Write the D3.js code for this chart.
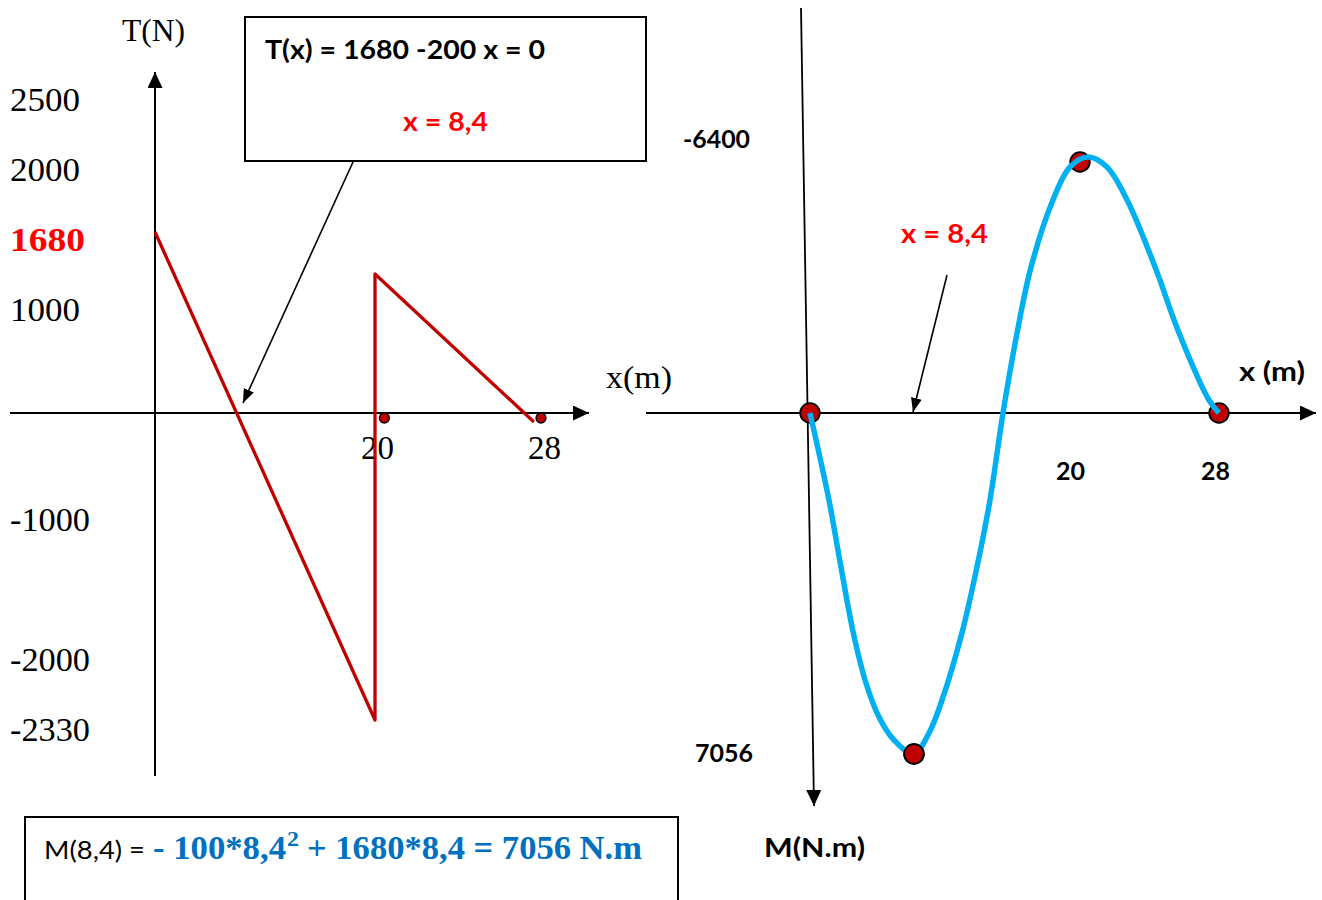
<!DOCTYPE html>
<html><head><meta charset="utf-8">
<script src="https://cdn.jsdelivr.net/npm/d3@7"></script>
<style>
html,body{margin:0;padding:0;background:#fff;}
svg{display:block;}
</style></head>
<body>
<svg id="c" width="1322" height="900"></svg>
<script>
// ---------- Shear force T(x) ----------
const tX = [0, 20, 20, 27.66];
const tY = [1680, -2330, 1290, -68];
const tDotX = [20.45, 28];
const tDotY = [-38, -38];
const tTickLabels = ["2500", "2000", "1680", "1000", "", "", "-1000", "", "-2000", "-2330"];
const tXTicks = [20, 28];

// ---------- Bending moment M(x) (drawn positive downward) ----------
const mX = [0, 1.53, 2.50, 3.50, 4.52, 5.57, 6.78, 8.4, 9.45, 10.36, 11.75, 12.80, 13.71, 14.62, 15.60, 16.58, 18.11, 19.30, 20.46, 21.55, 22.71, 24.32, 25.70, 27.42, 28];
const mY = [0, 1800, 3187, 4552, 5587, 6290, 6766, 7056, 6621, 5939, 4552, 3187, 1800, 0, -2040, -3723, -5431, -6273, -6527, -6273, -5431, -3723, -2040, -331, 0];
const mKeyX = [0, 8.4, 20, 28];
const mKeyY = [0, 7056, -6400, 0];
const mXTicks = [20, 28];
const mYLabels = ["-6400", "7056"];
const mYLabelValues = [-6400, 7056];

const svg = d3.select("#c");
const defs = svg.append("defs");
function marker(id, len, wid) {
  defs.append("marker").attr("id", id)
    .attr("viewBox", `0 0 ${len} ${wid}`)
    .attr("refX", len).attr("refY", wid / 2)
    .attr("markerWidth", len).attr("markerHeight", wid)
    .attr("markerUnits", "userSpaceOnUse").attr("orient", "auto")
    .append("path").attr("d", `M0,0L${len},${wid / 2}L0,${wid}Z`).attr("fill", "#000");
}
marker("ah", 16, 15);
marker("as", 14, 11);

function txt(g, x, y, s, o) {
  const t = g.append("text").attr("x", x).attr("y", y).text(s)
    .attr("font-family", o.ff || "Lato")
    .attr("font-size", o.fs)
    .attr("font-weight", o.fw || "bold")
    .attr("fill", o.fill || "#000");
  if (o.tl) t.attr("textLength", o.tl).attr("lengthAdjust", "spacingAndGlyphs");
  if (o.anchor) t.attr("text-anchor", o.anchor);
  return t;
}

// ================= LEFT CHART =================
const xT = d3.scaleLinear().domain([0, 20, 28]).range([155, 375, 541]);
const yT = d3.scaleLinear().domain([-2330, 0, 1680]).range([720, 413, 232]);
const gL = svg.append("g");

gL.append("line").attr("x1", 10).attr("y1", yT(0)).attr("x2", 589).attr("y2", yT(0))
  .attr("stroke", "#000").attr("stroke-width", 2).attr("marker-end", "url(#ah)");
gL.append("line").attr("x1", xT(0)).attr("y1", 776).attr("x2", xT(0)).attr("y2", 72)
  .attr("stroke", "#000").attr("stroke-width", 2).attr("marker-end", "url(#ah)");

// x tick labels
const axT = d3.axisBottom(xT).tickValues(tXTicks).tickSize(0).tickFormat(d3.format("d"));
const gaxT = gL.append("g").attr("transform", `translate(0,${yT(0)})`).call(axT);
gaxT.select(".domain").remove();
gaxT.selectAll("text").attr("y", 46).attr("dy", null)
  .attr("dx", (d, i) => [2, 3][i])
  .attr("font-family", "Liberation Serif").attr("font-size", 33).attr("fill", "#000");

// y tick labels (text-box lines)
const slot = d3.scalePoint().domain(d3.range(tTickLabels.length)).range([100, 730]);
gL.selectAll("text.yl")
  .data(tTickLabels.map((t, i) => ({ t, i })).filter(d => d.t))
  .join("text").attr("class", "yl")
  .attr("x", 10).attr("y", d => slot(d.i) + 11)
  .text(d => d.t)
  .attr("font-family", "Liberation Serif").attr("font-size", 34)
  .attr("textLength", d => d.t === "1680" ? 75 : (d.t.length === 4 ? 70 : 80))
  .attr("lengthAdjust", "spacingAndGlyphs")
  .attr("font-weight", d => d.t === "1680" ? "bold" : "normal")
  .attr("fill", d => d.t === "1680" ? "#FF0000" : "#000");

txt(gL, 122, 41, "T(N)", { ff: "Liberation Serif", fs: 31, fw: "normal", tl: 63 });
txt(gL, 606, 388, "x(m)", { ff: "Liberation Serif", fs: 31, fw: "normal", tl: 66 });

// shear line
const tPts = tX.map((x, i) => [x, tY[i]]);
gL.append("path")
  .attr("d", d3.line().x(d => xT(d[0])).y(d => yT(d[1]))(tPts))
  .attr("fill", "none").attr("stroke", "#C00000").attr("stroke-width", 3.3)
  .attr("stroke-linejoin", "round");
gL.selectAll("circle.td").data(tDotX.map((x, i) => [x, tDotY[i]])).join("circle")
  .attr("class", "td")
  .attr("cx", d => xT(d[0])).attr("cy", d => yT(d[1])).attr("r", 5)
  .attr("fill", "#C00000").attr("stroke", "#000").attr("stroke-width", 1.3);

// callout box
gL.append("rect").attr("x", 245).attr("y", 17).attr("width", 401).attr("height", 144)
  .attr("fill", "#fff").attr("stroke", "#000").attr("stroke-width", 2);
txt(gL, 265, 59, "T(x) = 1680 -200 x = 0", { fs: 27, tl: 280 });
txt(gL, 403, 131, "x = 8,4", { fs: 27, tl: 85, fill: "#FF0000" });
gL.append("line").attr("x1", 353).attr("y1", 162).attr("x2", 243).attr("y2", 403)
  .attr("stroke", "#000").attr("stroke-width", 1.6).attr("marker-end", "url(#as)");

// bottom formula box
gL.append("rect").attr("x", 25).attr("y", 817).attr("width", 653).attr("height", 120)
  .attr("fill", "#fff").attr("stroke", "#000").attr("stroke-width", 2);
txt(gL, 44, 859, "M(8,4) =", { fs: 25, fw: "normal", tl: 101 });
txt(gL, 153, 859, "- 100*8,4", { ff: "Liberation Serif", fs: 33, tl: 133, fill: "#0070C0" });
txt(gL, 287, 846, "2", { ff: "Liberation Serif", fs: 22, tl: 12, fill: "#0070C0" });
txt(gL, 307, 859, "+ 1680*8,4 = 7056 N.m", { ff: "Liberation Serif", fs: 33, tl: 335, fill: "#0070C0" });

// ================= RIGHT CHART =================
const xM = d3.scaleLinear().domain([0, 8.4, 20, 28]).range([810, 914, 1080, 1219]);
const yM = d3.scaleLinear().domain([-6400, 0, 7056]).range([162, 413, 754]);
const gR = svg.append("g");

gR.append("line").attr("x1", 646).attr("y1", yM(0)).attr("x2", 1316).attr("y2", yM(0))
  .attr("stroke", "#000").attr("stroke-width", 2).attr("marker-end", "url(#ah)");
gR.append("line").attr("x1", 801).attr("y1", 8).attr("x2", 814).attr("y2", 806)
  .attr("stroke", "#000").attr("stroke-width", 1.8).attr("marker-end", "url(#ah)");

const axM = d3.axisBottom(xM).tickValues(mXTicks).tickSize(0).tickFormat(d3.format("d"));
const gaxM = gR.append("g").attr("transform", `translate(0,${yM(0)})`).call(axM);
gaxM.select(".domain").remove();
gaxM.selectAll("text").attr("y", 67).attr("dy", null)
  .attr("dx", (d, i) => [-10, -4][i])
  .attr("font-family", "Lato").attr("font-weight", "bold").attr("font-size", 25).attr("fill", "#000");

// y value labels
gR.selectAll("text.ml").data(mYLabels).join("text").attr("class", "ml")
  .attr("x", (d, i) => [683, 695][i])
  .attr("y", (d, i) => yM(mYLabelValues[i]) + [-14, 8][i])
  .text(d => d)
  .attr("font-family", "Lato").attr("font-weight", "bold").attr("font-size", 25)
  .attr("textLength", (d, i) => [67, 58][i]).attr("lengthAdjust", "spacingAndGlyphs")
  .attr("fill", "#000");

txt(gR, 1239, 381, "x (m)", { fs: 26, tl: 66 });
txt(gR, 764, 857, "M(N.m)", { fs: 26, tl: 101 });
txt(gR, 901, 243, "x = 8,4", { fs: 26, tl: 87, fill: "#FF0000" });
gR.append("line").attr("x1", 947).attr("y1", 275).attr("x2", 913).attr("y2", 412)
  .attr("stroke", "#000").attr("stroke-width", 1.6).attr("marker-end", "url(#as)");

// key dots (drawn under the curve)
gR.selectAll("circle.md").data(mKeyX.map((x, i) => [x, mKeyY[i]])).join("circle")
  .attr("class", "md")
  .attr("cx", d => xM(d[0])).attr("cy", d => yM(d[1])).attr("r", 9.8)
  .attr("fill", "#C00000").attr("stroke", "#000").attr("stroke-width", 1.8);

const mPts = mX.map((x, i) => [x, mY[i]]);
gR.append("path")
  .attr("d", d3.line().x(d => xM(d[0])).y(d => yM(d[1])).curve(d3.curveCatmullRom.alpha(0.5))(mPts))
  .attr("fill", "none").attr("stroke", "#00B0F0").attr("stroke-width", 5.5);

// minimum dot sits above the curve as in the reference
gR.append("circle").attr("cx", xM(mKeyX[1])).attr("cy", yM(mKeyY[1])).attr("r", 9.8)
  .attr("fill", "#C00000").attr("stroke", "#000").attr("stroke-width", 1.8);
</script>
</body></html>
